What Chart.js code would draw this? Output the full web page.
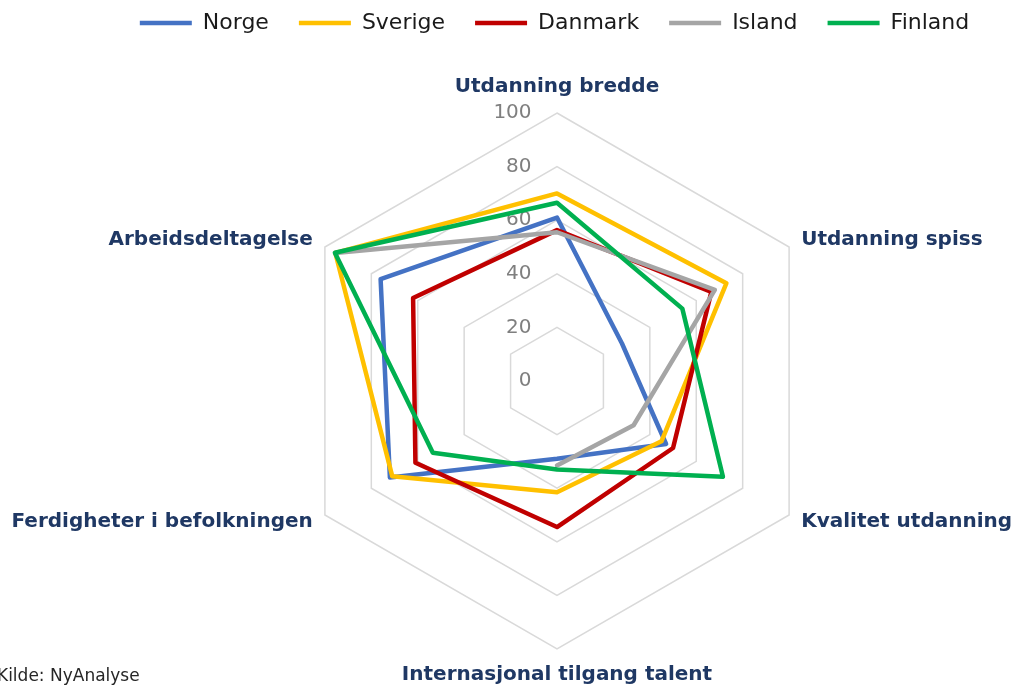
<!DOCTYPE html>
<html>
<head>
<meta charset="utf-8">
<title>Radar</title>
<script src="https://cdn.jsdelivr.net/npm/chart.js@4/dist/chart.umd.min.js"></script>
<style>
  body { margin: 0; background: #fff; }
  #wrap { width: 1015px; height: 691px; position: relative; }
</style>
</head>
<body>
<div id="wrap"><canvas id="myChart"></canvas></div>
<script>
const categories = [
  'Utdanning bredde',
  'Utdanning spiss',
  'Kvalitet utdanning',
  'Internasjonal tilgang talent',
  'Ferdigheter i befolkningen',
  'Arbeidsdeltagelse',
];

const norge = [61, 28, 47, 29, 72, 76];
const sverige = [70, 73, 45, 41.5, 71, 95.5];
const danmark = [56.3, 66.5, 50, 54.5, 61, 62];
const island = [55.5, 68, 33, 31.5, null, 95.5];
const finland = [66.5, 54, 71.5, 33, 53.5, 95.7];

const tickValues = [0, 20, 40, 60, 80, 100];

const FIG = '\u2007'; // figure space, same width as a digit

const series = [
  { label: 'Norge', data: norge, color: '#4472c4' },
  { label: 'Sverige', data: sverige, color: '#ffc000' },
  { label: 'Danmark', data: danmark, color: '#c00000' },
  { label: 'Island', data: island, color: '#a5a5a5' },
  { label: 'Finland', data: finland, color: '#00b050' },
];

// source note in the bottom left corner
const sourceNote = {
  id: 'sourceNote',
  afterDraw(chart) {
    const ctx = chart.ctx;
    ctx.save();
    ctx.font = '17px "DejaVu Sans"';
    ctx.fillStyle = '#262626';
    ctx.textBaseline = 'middle';
    ctx.fillText('Kilde: NyAnalyse', -3, 677);
    ctx.restore();
  },
};

const ctx = document.getElementById('myChart').getContext('2d');
const myChart = new Chart(ctx, {
  type: 'radar',
  data: {
    labels: categories,
    datasets: series.map((s, i) => ({
      label: s.label,
      data: s.data,
      borderColor: s.color,
      backgroundColor: s.color,
      borderWidth: 4.5,
      borderCapStyle: 'round',
      borderJoinStyle: 'round',
      fill: false,
      pointRadius: 0,
      pointHoverRadius: 0,
      spanGaps: false,
      // later series on top, like Excel
      order: series.length - 1 - i,
    })),
  },
  options: {
    responsive: true,
    maintainAspectRatio: false,
    animation: false,
    layout: { padding: { left: 94, top: -18 } },
    plugins: {
      tooltip: { enabled: false },
      legend: {
        position: 'top',
        labels: {
          usePointStyle: true,
          pointStyle: 'line',
          pointStyleWidth: 52,
          padding: 30,
          color: '#1a1a1a',
          font: { family: 'DejaVu Sans', size: 22 },
          sort: (a, b) => a.datasetIndex - b.datasetIndex,
        },
      },
    },
    scales: {
      r: {
        min: -0.001, // keeps the "0" label at the centre
        max: 100,
        afterBuildTicks: (scale) => {
          scale.ticks = tickValues.map((v, i) => ({ value: i === 0 ? scale.min : v }));
        },
        ticks: {
          color: '#7f7f7f',
          font: { family: 'DejaVu Sans', size: 20 },
          showLabelBackdrop: false,
          callback: (v) => {
            const s = String(Math.round(v));
            return FIG.repeat(3 - s.length) + s + FIG.repeat(7);
          },
        },
        grid: {
          color: (c) => (c.index === 0 ? 'rgba(0,0,0,0)' : '#d9d9d9'),
          lineWidth: 1.5,
        },
        angleLines: { display: false },
        pointLabels: {
          color: '#1f3864',
          font: { family: 'DejaVu Sans', size: 20, weight: 'bold' },
          padding: 2, // chart.js adds another 12px for the tick backdrop
        },
        afterSetDimensions: (scale) => {
          // plot geometry of the original; labels may use the whole canvas
          // (the extra 12px cancels the tick backdrop padding)
          scale.left = -12;
          scale.right = 1015 + 12;
          scale.bottom = 691 + 12;
          scale.xCenter = 557;
          scale.yCenter = 381;
          scale.drawingArea = 268;
        },
        afterFit: (scale) => {
          // centre the side labels on their spoke
          const items = scale._pointLabelItems || [];
          items.forEach((item, i) => {
            const h = item.bottom - item.top;
            let dy = 0;
            if (i === 1 || i === 5) dy = h / 2;
            if (i === 2 || i === 4) dy = -h / 2;
            item.y += dy;
            item.top += dy;
            item.bottom += dy;
          });
        },
      },
    },
  },
  plugins: [sourceNote],
});
</script>
</body>
</html>
